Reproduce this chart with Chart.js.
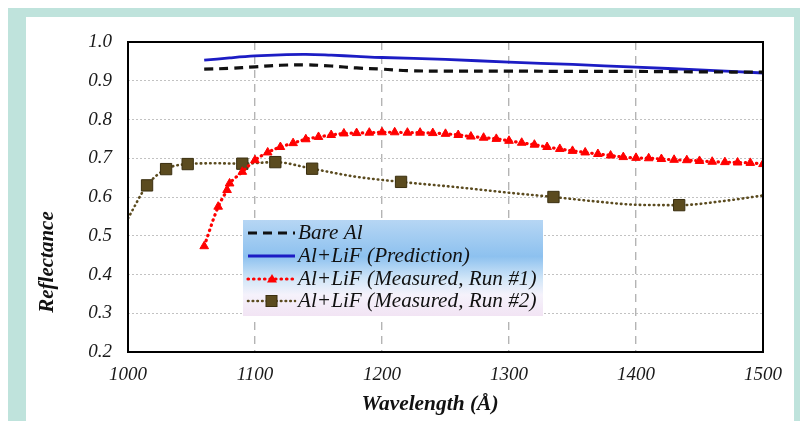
<!DOCTYPE html>
<html><head><meta charset="utf-8">
<script src="https://cdn.jsdelivr.net/npm/chart.js@4.4.0/dist/chart.umd.min.js"></script>
<style>
html,body{margin:0;padding:0;background:#fff;width:800px;height:421px;overflow:hidden}
#frame{position:absolute;left:8px;top:8px;width:792px;height:413px;background:#bfe3dc}
#inner{position:absolute;left:26px;top:17px;width:768px;height:404px;background:#fff}
#wrap{position:absolute;left:0;top:0;width:800px;height:421px}
</style></head><body>
<div id="frame"></div><div id="inner"></div>
<div id="wrap"><canvas id="c" width="800" height="421"></canvas></div>
<script>
// ---- data ----
const seriesLabels = ['Bare Al', 'Al+LiF (Prediction)', 'Al+LiF (Measured, Run #1)', 'Al+LiF (Measured, Run #2)'];

const bareAlWavelength = [1060, 1080, 1100, 1120, 1140, 1160, 1180, 1200, 1220, 1250, 1300, 1350, 1400, 1450, 1500];
const bareAlReflectance = [0.930, 0.932, 0.936, 0.940, 0.941, 0.938, 0.933, 0.930, 0.926, 0.925, 0.925, 0.924, 0.924, 0.923, 0.922];

const predWavelength = [1060, 1080, 1100, 1120, 1140, 1160, 1180, 1200, 1250, 1300, 1350, 1400, 1450, 1500];
const predReflectance = [0.953, 0.959, 0.964, 0.967, 0.968, 0.966, 0.963, 0.960, 0.955, 0.948, 0.942, 0.935, 0.928, 0.920];

const run1Wavelength = [1060, 1071, 1078, 1080, 1090, 1100, 1110, 1120, 1130, 1140, 1150, 1160, 1170, 1180, 1190, 1200, 1210, 1220, 1230, 1240, 1250, 1260, 1270, 1280, 1290, 1300, 1310, 1320, 1330, 1340, 1350, 1360, 1370, 1380, 1390, 1400, 1410, 1420, 1430, 1440, 1450, 1460, 1470, 1480, 1490, 1500];
const run1Reflectance = [0.473, 0.575, 0.618, 0.635, 0.665, 0.695, 0.715, 0.729, 0.739, 0.749, 0.755, 0.760, 0.764, 0.765, 0.766, 0.767, 0.767, 0.766, 0.766, 0.765, 0.763, 0.760, 0.756, 0.753, 0.750, 0.745, 0.740, 0.735, 0.729, 0.724, 0.719, 0.715, 0.711, 0.707, 0.703, 0.701, 0.700, 0.698, 0.696, 0.695, 0.693, 0.691, 0.690, 0.689, 0.688, 0.685];

const run2Wavelength = [1000, 1015, 1030, 1047, 1070, 1090, 1116, 1145, 1180, 1215, 1260, 1300, 1335, 1370, 1400, 1434, 1470, 1500];
const run2Reflectance = [0.545, 0.630, 0.672, 0.685, 0.687, 0.686, 0.690, 0.673, 0.652, 0.639, 0.625, 0.611, 0.600, 0.588, 0.580, 0.579, 0.590, 0.604];
const run2Marked = [false, true, true, true, false, true, true, true, false, true, false, false, true, false, false, true, false, false];

const xTickLabels = ['1000', '1100', '1200', '1300', '1400', '1500'];
const yTickLabels = ['0.2', '0.3', '0.4', '0.5', '0.6', '0.7', '0.8', '0.9', '1.0'];

const xTitle = 'Wavelength (Å)';
const yTitle = 'Reflectance';

// ---- build ----
const pts = (xs, ys) => xs.map((x, i) => ({x: x, y: ys[i]}));
const SERIF = '"Liberation Serif", "Times New Roman", serif';
const OLIVE = '#5b4b1f';

const datasets = [
  {label: seriesLabels[0], data: pts(bareAlWavelength, bareAlReflectance), borderColor: '#111', borderWidth: 3.2,
   borderDash: [9, 6], pointRadius: 0, tension: 0.4, fill: false},
  {label: seriesLabels[1], data: pts(predWavelength, predReflectance), borderColor: '#1c1cc4', borderWidth: 2.8,
   pointRadius: 0, tension: 0.4, fill: false},
  {label: seriesLabels[2], data: pts(run1Wavelength, run1Reflectance), borderColor: '#ff0000', borderWidth: 3.2,
   borderDash: [0.5, 5], borderCapStyle: 'round', pointStyle: 'triangle', pointRadius: 5,
   pointBackgroundColor: '#ff0000', pointBorderColor: '#ff0000', pointBorderWidth: 1, tension: 0.4, fill: false,
   legendMarker: 'triangle'},
  {label: seriesLabels[3], data: pts(run2Wavelength, run2Reflectance), borderColor: OLIVE, borderWidth: 2.6,
   borderDash: [0.5, 4.2], borderCapStyle: 'round', pointStyle: 'rect',
   pointRadius: run2Marked.map(m => m ? 8 : 0), pointBackgroundColor: OLIVE, pointBorderColor: '#3a2f10',
   pointBorderWidth: 1, cubicInterpolationMode: 'monotone', fill: false, legendMarker: 'rect'}
];

function wideText(ctx, text, x, y, sx) {
  ctx.save();
  ctx.translate(x, y); ctx.scale(sx, 1);
  ctx.fillText(text, 0, 0);
  ctx.restore();
}

const decor = {
  id: 'decor',
  afterDatasetsDraw(chart) {
    const ctx = chart.ctx, a = chart.chartArea;
    // frame
    ctx.save();
    ctx.strokeStyle = '#000'; ctx.lineWidth = 2;
    ctx.strokeRect(a.left, a.top, a.right - a.left, a.bottom - a.top);
    ctx.restore();
    // axis titles
    ctx.save();
    ctx.fillStyle = '#111';
    ctx.font = 'bold italic 21px ' + SERIF;
    ctx.textAlign = 'center'; ctx.textBaseline = 'middle';
    wideText(ctx, xTitle, 430, 405, 1.02);
    ctx.translate(48, 262); ctx.rotate(-Math.PI / 2);
    ctx.fillText(yTitle, 0, 0);
    ctx.restore();
    // legend box
    const x0 = 243, y0 = 220, w = 300, h = 96;
    ctx.save();
    const g = ctx.createLinearGradient(0, y0, 0, y0 + h);
    g.addColorStop(0, '#b6d6f4');
    g.addColorStop(0.38, '#8dc1ef');
    g.addColorStop(0.62, '#d3e7f8');
    g.addColorStop(0.78, '#f5f2fb');
    g.addColorStop(1, '#f2e4f4');
    ctx.fillStyle = g;
    ctx.fillRect(x0, y0, w, h);
    const rows = [233, 256, 279, 301];
    chart.data.datasets.forEach((ds, i) => {
      const y = rows[i];
      ctx.save();
      ctx.strokeStyle = ds.borderColor; ctx.lineWidth = ds.borderWidth;
      ctx.setLineDash(ds.borderDash || []); ctx.lineCap = ds.borderCapStyle || 'butt';
      ctx.beginPath(); ctx.moveTo(248, y); ctx.lineTo(295, y); ctx.stroke();
      ctx.restore();
      if (ds.legendMarker === 'triangle') {
        ctx.fillStyle = ds.pointBackgroundColor;
        ctx.beginPath(); ctx.moveTo(272, y - 5); ctx.lineTo(277, y + 3.5); ctx.lineTo(267, y + 3.5); ctx.closePath(); ctx.fill();
      } else if (ds.legendMarker === 'rect') {
        ctx.fillStyle = ds.pointBackgroundColor; ctx.strokeStyle = ds.pointBorderColor; ctx.lineWidth = 1;
        ctx.fillRect(266, y - 5.5, 11, 11); ctx.strokeRect(266, y - 5.5, 11, 11);
      }
      ctx.fillStyle = '#111';
      ctx.font = 'italic 20px ' + SERIF;
      ctx.textAlign = 'left'; ctx.textBaseline = 'middle';
      wideText(ctx, ds.label, 298, y + 1, 1.06);
    });
    ctx.restore();
  }
};

new Chart(document.getElementById('c'), {
  type: 'line',
  data: {datasets: datasets},
  options: {
    responsive: false, animation: false, devicePixelRatio: 1,
    layout: {padding: {top: 42, right: 37, left: 0, bottom: 0}},
    plugins: {legend: {display: false}, tooltip: {enabled: false}},
    scales: {
      x: {type: 'linear', min: 1000, max: 1500,
        ticks: {stepSize: 100, padding: 12, maxRotation: 0, color: '#1a1a1a',
          font: {family: SERIF, style: 'italic', size: 19},
          callback: v => xTickLabels[Math.round((v - 1000) / 100)]},
        grid: {color: '#b4b4b4', lineWidth: 1.4, drawTicks: false},
        border: {display: false, dash: [8, 6]},
        afterFit(s) { s.height = 69; }},
      y: {type: 'linear', min: 0.2, max: 1.0,
        ticks: {stepSize: 0.1, padding: 16, color: '#1a1a1a',
          font: {family: SERIF, style: 'italic', size: 19},
          callback: v => yTickLabels[Math.round((v - 0.2) * 10)]},
        grid: {color: '#c2c2c2', lineWidth: 1, drawTicks: false},
        border: {display: false, dash: [2, 2]},
        afterFit(s) { s.width = 128; }}
    }
  },
  plugins: [decor]
});
</script>
</body></html>
